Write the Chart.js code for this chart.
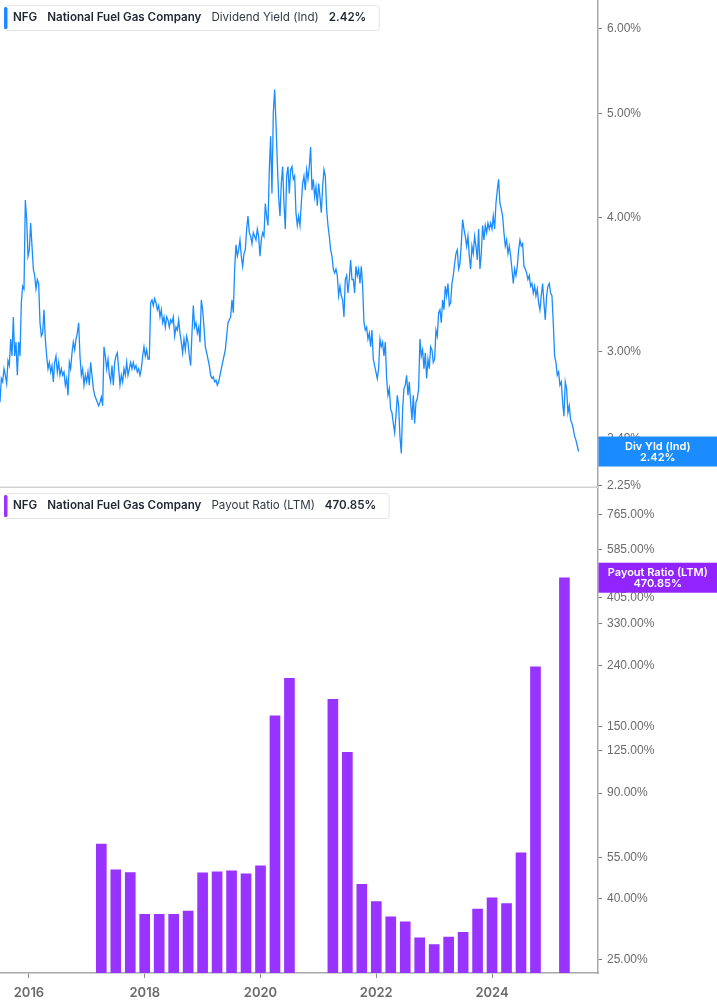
<!DOCTYPE html>
<html>
<head>
<meta charset="utf-8">
<title>NFG - Dividend Yield and Payout Ratio</title>
<script src="https://cdn.jsdelivr.net/npm/chart.js@4.4.1/dist/chart.umd.min.js"></script>
<style>
  html, body { margin: 0; padding: 0; background: #ffffff; }
  #wrap { width: 717px; height: 1005px; }
</style>
</head>
<body>
<div id="wrap"><canvas id="nfgChart" width="717" height="1005"></canvas></div>
<script>
// ---------- data ----------
const ticker = 'NFG';
const companyName = 'National Fuel Gas Company';

// Dividend Yield (Ind), in %, one sample every yieldStep years starting at yieldStart
const yieldStart = 2015.5;
const yieldStep = 0.02303;
const dividendYield = [
  2.69, 2.83, 2.81, 2.89, 2.85, 2.80, 2.94, 2.91, 3.08, 2.97,
  3.23, 2.97, 3.06, 2.85, 3.06, 2.97, 3.33, 3.45, 3.43, 4.15,
  3.98, 3.68, 3.73, 3.95, 3.76, 3.58, 3.53, 3.43, 3.50, 3.47,
  3.19, 3.10, 3.12, 3.28, 3.08, 2.97, 2.89, 2.93, 2.87, 2.91,
  2.81, 2.93, 2.97, 2.87, 2.93, 2.85, 2.89, 2.85, 2.87, 2.79,
  2.83, 2.73, 2.93, 2.89, 2.99, 3.06, 3.01, 3.08, 3.12, 3.19,
  2.97, 2.85, 2.89, 2.79, 2.85, 2.81, 2.87, 2.79, 2.93, 2.85,
  2.77, 2.73, 2.71, 2.69, 2.67, 2.69, 2.72, 2.67, 3.03, 2.97,
  2.89, 2.95, 2.85, 2.81, 2.91, 2.79, 2.93, 2.97, 2.99, 2.89,
  2.79, 2.85, 2.81, 2.89, 2.85, 2.93, 2.85, 2.89, 2.93, 2.89,
  2.93, 2.89, 2.91, 2.87, 2.89, 2.85, 2.89, 2.97, 3.03, 2.97,
  3.01, 2.95, 2.95, 3.33, 3.35, 3.31, 3.36, 3.33, 3.28, 3.31,
  3.23, 3.28, 3.19, 3.23, 3.16, 3.23, 3.21, 3.16, 3.21, 3.19,
  3.23, 3.10, 3.16, 3.14, 3.21, 3.12, 3.06, 2.99, 3.08, 3.01,
  3.10, 3.06, 2.97, 2.91, 3.12, 3.31, 3.16, 3.19, 3.12, 3.16,
  3.06, 3.35, 3.28, 3.16, 3.03, 2.99, 2.95, 2.91, 2.85, 2.83,
  2.84, 2.81, 2.82, 2.79, 2.81, 2.85, 2.89, 2.93, 2.97, 3.01,
  3.10, 3.19, 3.21, 3.23, 3.35, 3.26, 3.58, 3.77, 3.68, 3.73,
  3.81, 3.68, 3.60, 3.70, 3.73, 3.90, 4.01, 3.87, 3.84, 3.78,
  3.87, 3.84, 3.81, 3.90, 3.84, 3.68, 3.81, 3.87, 3.84, 4.12,
  4.01, 3.93, 4.43, 4.76, 4.21, 5.00, 5.26, 4.90, 4.50, 4.18,
  4.01, 4.30, 4.46, 4.12, 3.90, 4.37, 4.46, 4.21, 4.43, 4.46,
  4.34, 4.37, 4.04, 3.93, 4.01, 3.93, 4.12, 4.30, 4.37, 4.24,
  4.43, 4.34, 4.46, 4.65, 4.24, 4.34, 4.18, 4.27, 4.10, 4.30,
  4.18, 4.04, 4.27, 4.43, 4.37, 4.07, 3.93, 3.84, 3.73, 3.68,
  3.58, 3.55, 3.58, 3.53, 3.38, 3.45, 3.38, 3.35, 3.23, 3.50,
  3.53, 3.40, 3.50, 3.65, 3.50, 3.50, 3.40, 3.60, 3.53, 3.58,
  3.47, 3.60, 3.45, 3.19, 3.14, 3.16, 3.08, 3.12, 3.03, 3.14,
  2.95, 2.91, 2.87, 2.83, 2.89, 3.08, 3.03, 3.06, 2.97, 3.06,
  2.83, 2.73, 2.77, 2.65, 2.63, 2.57, 2.52, 2.61, 2.73, 2.67,
  2.50, 2.41, 2.65, 2.77, 2.79, 2.85, 2.73, 2.81, 2.69, 2.59,
  2.73, 2.57, 2.69, 2.71, 2.77, 3.08, 2.97, 3.01, 2.89, 2.99,
  2.83, 2.95, 2.89, 3.03, 3.01, 2.93, 2.95, 3.14, 3.10, 3.26,
  3.28, 3.19, 3.35, 3.28, 3.45, 3.38, 3.47, 3.31, 3.33, 3.47,
  3.53, 3.62, 3.70, 3.73, 3.58, 3.62, 3.78, 3.98, 3.90, 3.84,
  3.76, 3.84, 3.68, 3.58, 3.76, 3.70, 3.84, 3.76, 3.65, 3.90,
  3.58, 3.70, 3.93, 3.81, 3.93, 3.87, 3.95, 3.90, 3.95, 3.90,
  4.01, 3.90, 4.12, 4.24, 4.34, 4.12, 4.07, 4.01, 3.87, 3.76,
  3.81, 3.70, 3.76, 3.68, 3.58, 3.47, 3.58, 3.53, 3.60, 3.73,
  3.81, 3.76, 3.78, 3.60, 3.58, 3.55, 3.50, 3.53, 3.45, 3.47,
  3.40, 3.45, 3.38, 3.43, 3.33, 3.28, 3.38, 3.47, 3.33, 3.21,
  3.38, 3.45, 3.47, 3.40, 3.38, 3.19, 2.97, 2.93, 2.85, 2.87,
  2.79, 2.81, 2.69, 2.61, 2.81, 2.77, 2.63, 2.67, 2.59, 2.57,
  2.54, 2.50, 2.48, 2.45, 2.42
];

// Payout Ratio (LTM), in %, per quarter end (null = negative, not drawn on the log scale)
const payoutQuarters = [
  '2017-03', '2017-06', '2017-09', '2017-12',
  '2018-03', '2018-06', '2018-09', '2018-12',
  '2019-03', '2019-06', '2019-09', '2019-12',
  '2020-03', '2020-06', '2020-09', '2020-12',
  '2021-03', '2021-06', '2021-09', '2021-12',
  '2022-03', '2022-06', '2022-09', '2022-12',
  '2023-03', '2023-06', '2023-09', '2023-12',
  '2024-03', '2024-06', '2024-09', '2024-12',
  '2025-03'
];
const payoutRatio = [
  60.9, 49.9, 48.9, 35.5,
  35.5, 35.5, 36.4, 48.8,
  49.2, 49.5, 48.4, 51.5,
  162.9, 217.5, null, null,
  185.1, 123.2, 44.7, 39.1,
  34.8, 33.5, 29.6, 28.1,
  29.8, 30.9, 36.9, 40.3,
  38.5, 56.9, 237.3, null,
  470.85
];

// tick labels
const yearTicks = [2016, 2018, 2020, 2022, 2024];
const yieldTicks = [2.25, 2.49, 3, 4, 5, 6];
const payoutTicks = [25, 40, 55, 90, 125, 150, 240, 330, 405, 585, 765];

const lastYield = dividendYield[dividendYield.length - 1];
const lastPayout = payoutRatio[payoutRatio.length - 1];

// ---------- styles ----------
const BLUE = '#1a8cff';
const PURPLE = '#9933ff';
const PURPLE_BADGE = '#9124ff';
const AXIS_TEXT = '#6b6b6b';

// ---------- build library data ----------
const yieldPoints = dividendYield.map((v, i) => ({ x: yieldStart + i * yieldStep, y: v }));
const payoutPoints = [];
payoutQuarters.forEach((q, i) => {
  if (payoutRatio[i] === null) return;
  const parts = q.split('-').map(Number);
  payoutPoints.push({ x: parts[0] + parts[1] / 12, y: payoutRatio[i] });
});

const pct = v => Number(v).toFixed(2) + '%';

// legend box drawn top-left of each panel
function drawLegend(ctx, top, accent, parts) {
  const h = 25;
  let x = 13;
  const cy = top + h / 2 + 0.5;
  ctx.textBaseline = 'middle';
  ctx.textAlign = 'left';
  const font = w => w + ' 11.6px Inter, "Noto Sans", sans-serif';
  const placed = parts.map(p => {
    ctx.font = font(p.weight);
    const w = ctx.measureText(p.text).width;
    const item = { x: x, w: w, p: p };
    x += w + 10;
    return item;
  });
  const right = x - 10 + 13;
  ctx.fillStyle = '#ffffff';
  ctx.strokeStyle = '#e4e4e4';
  ctx.lineWidth = 1;
  ctx.beginPath();
  ctx.roundRect(4.5, top + 0.5, right - 4.5, h, 3);
  ctx.fill();
  ctx.stroke();
  ctx.fillStyle = accent;
  ctx.beginPath();
  ctx.roundRect(4, top + 2, 3.5, h - 3, 1.5);
  ctx.fill();
  placed.forEach(it => {
    ctx.font = font(it.p.weight);
    ctx.fillStyle = it.p.color;
    ctx.fillText(it.p.text, it.x, cy);
  });
}

// value badge on the right axis
function drawBadge(ctx, left, right, cy, color, line1, line2) {
  ctx.fillStyle = color;
  ctx.fillRect(left, cy - 15, right - left, 30);
  ctx.fillStyle = '#ffffff';
  ctx.textAlign = 'center';
  ctx.textBaseline = 'middle';
  ctx.font = '600 11px Inter, "Noto Sans", sans-serif';
  const mid = (left + right) / 2;
  ctx.fillText(line1, mid, cy - 5);
  ctx.fillText(line2, mid, cy + 6);
}

const overlayPlugin = {
  id: 'overlay',
  afterDraw(chart) {
    const ctx = chart.ctx;
    const area = chart.chartArea;
    const yDiv = chart.scales.yDiv;
    const yPay = chart.scales.yPay;
    ctx.save();
    // separator between the panels
    ctx.strokeStyle = '#d2d2d2';
    ctx.lineWidth = 1.5;
    ctx.beginPath();
    ctx.moveTo(0, yDiv.bottom + 0.75);
    ctx.lineTo(area.right, yDiv.bottom + 0.75);
    ctx.stroke();

    const dark = '#1f2433';
    drawLegend(ctx, yDiv.top + 5, BLUE, [
      { text: ticker, weight: '600', color: dark },
      { text: companyName, weight: '600', color: dark },
      { text: 'Dividend Yield (Ind)', weight: '400', color: '#333845' },
      { text: pct(lastYield), weight: '600', color: dark }
    ]);
    drawLegend(ctx, yPay.top + 6.5, PURPLE, [
      { text: ticker, weight: '600', color: dark },
      { text: companyName, weight: '600', color: dark },
      { text: 'Payout Ratio (LTM)', weight: '400', color: '#333845' },
      { text: pct(lastPayout), weight: '600', color: dark }
    ]);

    drawBadge(ctx, area.right + 0.5, chart.width, yDiv.getPixelForValue(lastYield), BLUE, 'Div Yld (Ind)', pct(lastYield));
    drawBadge(ctx, area.right + 0.5, chart.width, yPay.getPixelForValue(lastPayout), PURPLE_BADGE, 'Payout Ratio (LTM)', pct(lastPayout));
    ctx.restore();
  }
};

// no label overhang padding: the plot fills the canvas edge to edge
function fitRightAxis(s) {
  s.width = 119;
  s.paddingTop = 0;
  s.paddingBottom = 0;
}

const yAxisCommon = {
  type: 'logarithmic',
  position: 'right',
  stack: 'panels',
  stackWeight: 1,
  bounds: 'data',   // keep the exact min/max instead of snapping to generated ticks
  afterFit: fitRightAxis,
  grid: { display: true, drawOnChartArea: false, drawTicks: true, tickLength: 4, color: '#7a7a7a' },
  border: { display: true, color: '#a8a8a8', width: 1.5 },
  ticks: {
    autoSkip: false,
    padding: 5,
    color: AXIS_TEXT,
    font: { family: '"Liberation Sans", Arial, sans-serif', size: 12 },
    callback: v => pct(v)
  }
};

const config = {
  type: 'bar',
  data: {
    datasets: [
      {
        type: 'line',
        label: 'Dividend Yield (Ind)',
        data: yieldPoints,
        yAxisID: 'yDiv',
        borderColor: BLUE,
        borderWidth: 1.3,
        pointRadius: 0,
        tension: 0
      },
      {
        type: 'bar',
        label: 'Payout Ratio (LTM)',
        data: payoutPoints,
        yAxisID: 'yPay',
        backgroundColor: PURPLE,
        borderWidth: 0,
        barThickness: 10
      }
    ]
  },
  options: {
    responsive: false,
    animation: false,
    layout: { padding: 0 },
    plugins: {
      legend: { display: false },
      tooltip: { enabled: false }
    },
    scales: {
      x: {
        type: 'linear',
        min: 2015.5,
        max: 2025.83,
        offset: false,
        afterBuildTicks: s => { s.ticks = yearTicks.map(v => ({ value: v })); },
        afterFit: s => { s.height = 32; s.paddingLeft = 0; s.paddingRight = 0; },
        grid: { display: true, offset: false, drawOnChartArea: false, drawTicks: true, tickLength: 5, color: '#8a8a8a' },
        border: { display: true, color: '#a8a8a8', width: 1.5 },
        ticks: {
          autoSkip: false,
          maxRotation: 0,
          padding: 7,
          color: AXIS_TEXT,
          font: { family: 'Inter, "Noto Sans", sans-serif', size: 13, weight: '600' },
          callback: v => String(v)
        }
      },
      yDiv: Object.assign({}, yAxisCommon, {
        min: 2.245,
        max: 6.375,
        afterBuildTicks: s => { s.ticks = yieldTicks.map(v => ({ value: v })); }
      }),
      yPay: Object.assign({}, yAxisCommon, {
        min: 22.6,
        max: 949,
        afterBuildTicks: s => { s.ticks = payoutTicks.map(v => ({ value: v })); }
      })
    }
  },
  plugins: [overlayPlugin]
};

const nfgChart = new Chart(document.getElementById('nfgChart').getContext('2d'), config);
</script>
</body>
</html>
